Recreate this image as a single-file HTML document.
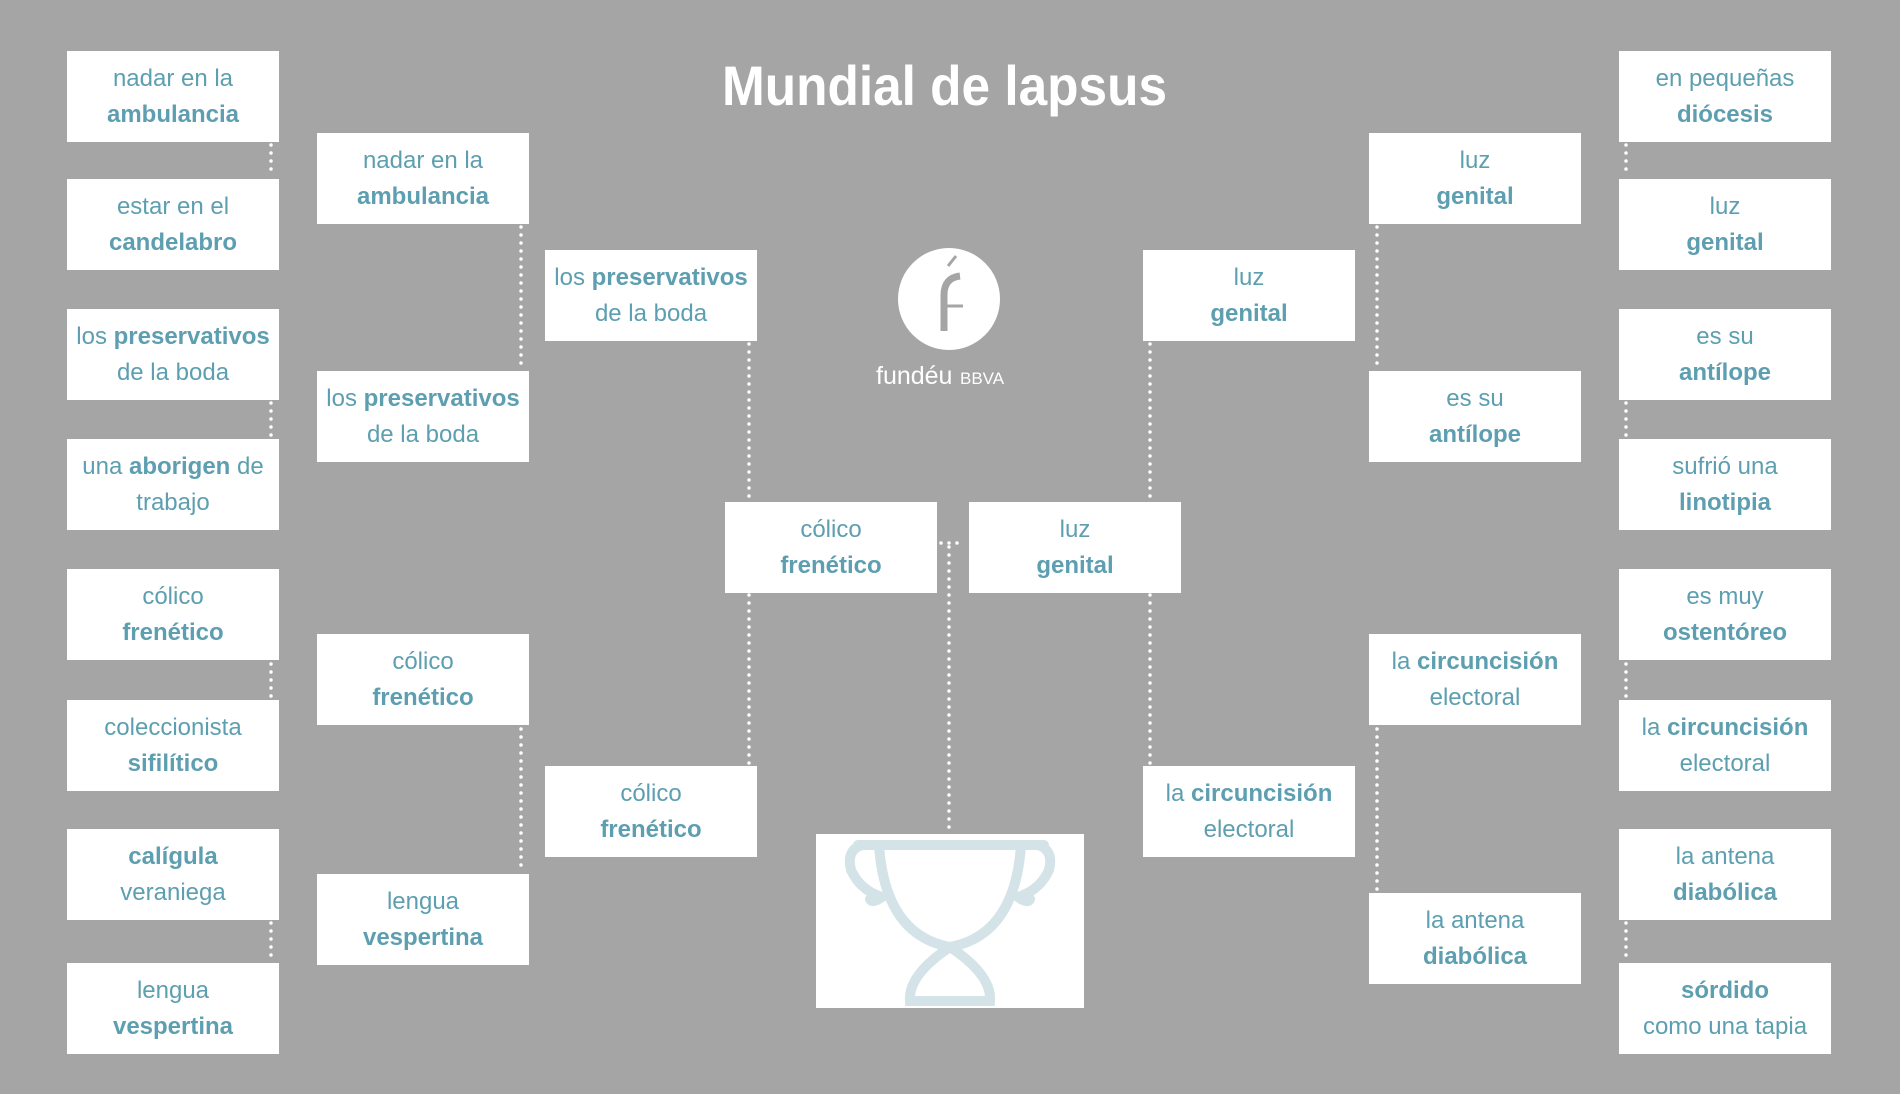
<!DOCTYPE html>
<html><head><meta charset="utf-8"><style>
body{margin:0;width:1900px;height:1094px;background:#a5a5a5;position:relative;overflow:hidden;font-family:"Liberation Sans",sans-serif}
.b{position:absolute;background:#fff;width:212px;height:91px;display:flex;align-items:center;justify-content:center;text-align:center;color:#5d9fb0;font-size:24px;line-height:36px}
.b span{display:block;white-space:nowrap}
.b b{font-weight:bold}
svg{position:absolute;left:0;top:0}
</style></head><body>
<svg width="1900" height="1094">
<g stroke="#fff" stroke-width="3.5" stroke-linecap="round" stroke-dasharray="0 8" fill="none">
<line x1="271" y1="145" x2="271" y2="177"/>
<line x1="271" y1="403" x2="271" y2="437"/>
<line x1="271" y1="664" x2="271" y2="698"/>
<line x1="271" y1="923" x2="271" y2="961"/>
<line x1="1626" y1="145" x2="1626" y2="177"/>
<line x1="1626" y1="403" x2="1626" y2="437"/>
<line x1="1626" y1="664" x2="1626" y2="698"/>
<line x1="1626" y1="923" x2="1626" y2="961"/>
<line x1="521" y1="227" x2="521" y2="369"/>
<line x1="521" y1="729" x2="521" y2="872"/>
<line x1="1377" y1="227" x2="1377" y2="369"/>
<line x1="1377" y1="729" x2="1377" y2="891"/>
<line x1="749" y1="344" x2="749" y2="500"/>
<line x1="749" y1="595" x2="749" y2="764"/>
<line x1="1150" y1="344" x2="1150" y2="500"/>
<line x1="1150" y1="595" x2="1150" y2="764"/>
<line x1="941" y1="543" x2="965" y2="543"/>
<line x1="949" y1="547" x2="949" y2="832"/>
</g>
<text x="722" y="105" fill="#fff" font-size="56" font-weight="bold" textLength="445" lengthAdjust="spacingAndGlyphs">Mundial de lapsus</text>
<circle cx="949" cy="299" r="51" fill="#fff"/>
<path d="M944 331 L944 295 Q944 278 960 276" stroke="#a5a5a5" stroke-width="7" fill="none"/>
<line x1="944" y1="306" x2="963" y2="306" stroke="#a5a5a5" stroke-width="3"/>
<line x1="948" y1="266" x2="956" y2="256" stroke="#a5a5a5" stroke-width="3"/>
<text x="876" y="384" fill="#fff" font-size="25">fundéu</text>
<text x="960" y="384" fill="#fff" font-size="17">BBVA</text>
<rect x="816" y="834" width="268" height="174" fill="#fff"/>
<g stroke="#d3e3e8" stroke-width="10" fill="none" stroke-linecap="round">
<line x1="858" y1="845" x2="1044" y2="845"/>
<path d="M879 845 Q885 935 950 947 Q1015 935 1021 845"/>
<path d="M950 947 Q908 975 910 1001 L990 1001 Q992 975 950 947"/>
<path d="M862 845 Q846 850 851 870 Q860 890 882 897 Q872 904 870 899"/>
<path d="M1038 845 Q1054 850 1049 870 Q1040 890 1018 897 Q1028 904 1030 899"/>
</g>
</svg>
<div class="b" style="left:67px;top:51px"><span>nadar en la<br><b>ambulancia</b></span></div>
<div class="b" style="left:67px;top:179px"><span>estar en el<br><b>candelabro</b></span></div>
<div class="b" style="left:67px;top:309px"><span>los <b>preservativos</b><br>de la boda</span></div>
<div class="b" style="left:67px;top:439px"><span>una <b>aborigen</b> de<br>trabajo</span></div>
<div class="b" style="left:67px;top:569px"><span>cólico<br><b>frenético</b></span></div>
<div class="b" style="left:67px;top:700px"><span>coleccionista<br><b>sifilítico</b></span></div>
<div class="b" style="left:67px;top:829px"><span><b>calígula</b><br>veraniega</span></div>
<div class="b" style="left:67px;top:963px"><span>lengua<br><b>vespertina</b></span></div>

<div class="b" style="left:317px;top:133px"><span>nadar en la<br><b>ambulancia</b></span></div>
<div class="b" style="left:317px;top:371px"><span>los <b>preservativos</b><br>de la boda</span></div>
<div class="b" style="left:317px;top:634px"><span>cólico<br><b>frenético</b></span></div>
<div class="b" style="left:317px;top:874px"><span>lengua<br><b>vespertina</b></span></div>

<div class="b" style="left:545px;top:250px"><span>los <b>preservativos</b><br>de la boda</span></div>
<div class="b" style="left:545px;top:766px"><span>cólico<br><b>frenético</b></span></div>

<div class="b" style="left:725px;top:502px"><span>cólico<br><b>frenético</b></span></div>
<div class="b" style="left:969px;top:502px"><span>luz<br><b>genital</b></span></div>

<div class="b" style="left:1143px;top:250px"><span>luz<br><b>genital</b></span></div>
<div class="b" style="left:1143px;top:766px"><span>la <b>circuncisión</b><br>electoral</span></div>

<div class="b" style="left:1369px;top:133px"><span>luz<br><b>genital</b></span></div>
<div class="b" style="left:1369px;top:371px"><span>es su<br><b>antílope</b></span></div>
<div class="b" style="left:1369px;top:634px"><span>la <b>circuncisión</b><br>electoral</span></div>
<div class="b" style="left:1369px;top:893px"><span>la antena<br><b>diabólica</b></span></div>

<div class="b" style="left:1619px;top:51px"><span>en pequeñas<br><b>diócesis</b></span></div>
<div class="b" style="left:1619px;top:179px"><span>luz<br><b>genital</b></span></div>
<div class="b" style="left:1619px;top:309px"><span>es su<br><b>antílope</b></span></div>
<div class="b" style="left:1619px;top:439px"><span>sufrió una<br><b>linotipia</b></span></div>
<div class="b" style="left:1619px;top:569px"><span>es muy<br><b>ostentóreo</b></span></div>
<div class="b" style="left:1619px;top:700px"><span>la <b>circuncisión</b><br>electoral</span></div>
<div class="b" style="left:1619px;top:829px"><span>la antena<br><b>diabólica</b></span></div>
<div class="b" style="left:1619px;top:963px"><span><b>sórdido</b><br>como una tapia</span></div>
</body></html>
